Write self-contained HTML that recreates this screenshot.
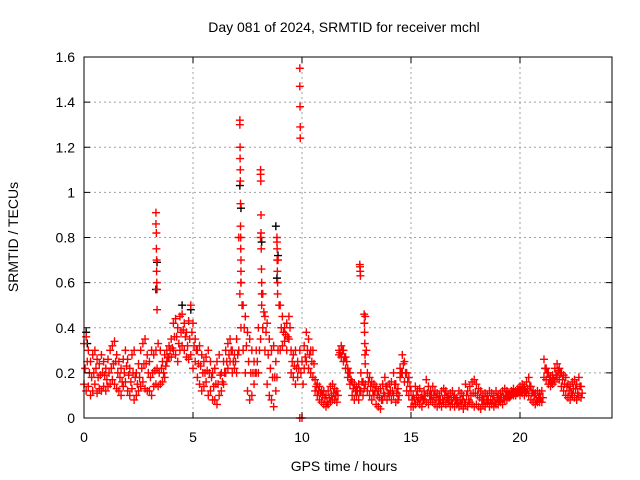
<!DOCTYPE html>
<html><head><meta charset="utf-8"><style>
body{margin:0;background:#fff}
svg{display:block;font-family:"Liberation Sans",sans-serif}
</style></head><body>
<svg id="chart" width="640" height="480" viewBox="0 0 640 480">
<text x="344" y="32" font-size="14" text-anchor="middle">Day 081 of 2024, SRMTID for receiver mchl</text>
<text transform="translate(18,237) rotate(-90)" font-size="14" text-anchor="middle">SRMTID / TECUs</text>
<text x="344" y="471" font-size="14" text-anchor="middle">GPS time / hours</text>
<g id="grid"></g><g id="marks"></g><g id="axes"></g>
</svg>
<script>
const xTicks=[0,5,10,15,20];
const yTicks=[0,0.2,0.4,0.6,0.8,1,1.2,1.4,1.6];
const yTickLabels=["0","0.2","0.4","0.6","0.8","1","1.2","1.4","1.6"];
const tStart=0, tStep=0.1;
const hiVals=[0.33,0.36,0.3,0.25,0.28,0.3,0.26,0.24,0.28,0.25,
0.22,0.26,0.3,0.32,0.34,0.28,0.25,0.22,0.26,0.3,
0.26,0.22,0.28,0.3,0.2,0.24,0.3,0.33,0.35,0.28,
0.25,0.3,0.28,0.3,0.33,0.3,0.25,0.28,0.3,0.32,
0.35,0.42,0.44,0.4,0.45,0.46,0.42,0.38,0.43,0.5,
0.42,0.35,0.3,0.32,0.28,0.25,0.27,0.3,0.25,0.2,
0.22,0.25,0.28,0.2,0.25,0.3,0.33,0.35,0.3,0.28,
0.35,0.8,0.6,0.5,0.45,0.38,0.35,0.3,0.25,0.3,
0.4,0.8,0.55,0.45,0.42,0.35,0.3,0.32,0.25,0.7,
0.5,0.45,0.4,0.42,0.45,0.3,0.28,0.3,0.25,0.3,
0.25,0.32,0.38,0.35,0.3,0.3,0.17,0.15,0.14,0.12,
0.12,0.1,0.12,0.14,0.15,0.13,0.12,0.3,0.32,0.3,
0.27,0.22,0.2,0.16,0.15,0.14,0.15,0.2,0.16,0.45,
0.2,0.18,0.16,0.15,0.14,0.12,0.13,0.15,0.18,0.14,
0.15,0.16,0.2,0.15,0.13,0.22,0.28,0.25,0.2,0.18,
0.12,0.1,0.14,0.12,0.13,0.1,0.12,0.17,0.14,0.12,
0.14,0.12,0.11,0.1,0.12,0.13,0.12,0.1,0.11,0.12,
0.1,0.09,0.12,0.11,0.1,0.15,0.12,0.14,0.16,0.17,
0.15,0.13,0.12,0.1,0.11,0.1,0.12,0.11,0.1,0.12,
0.1,0.11,0.12,0.13,0.12,0.11,0.12,0.13,0.12,0.13,
0.14,0.15,0.14,0.16,0.18,0.14,0.12,0.11,0.12,0.11,
0.12,0.26,0.22,0.2,0.18,0.19,0.22,0.24,0.22,0.2,
0.19,0.18,0.15,0.14,0.16,0.17,0.15,0.18,0.14];
const midVals=[0.22,0.25,0.2,0.18,0.2,0.22,0.18,0.19,0.2,0.19,
0.17,0.2,0.22,0.24,0.25,0.2,0.18,0.16,0.2,0.23,
0.19,0.16,0.2,0.18,0.15,0.18,0.22,0.24,0.24,0.2,
0.18,0.2,0.21,0.22,0.2,0.22,0.2,0.23,0.27,0.3,
0.31,0.36,0.36,0.33,0.38,0.39,0.36,0.32,0.35,0.38,
0.32,0.3,0.24,0.23,0.2,0.2,0.21,0.2,0.18,0.14,
0.15,0.15,0.19,0.16,0.2,0.25,0.28,0.3,0.25,0.25,
0.28,0.55,0.5,0.4,0.32,0.25,0.2,0.2,0.2,0.25,
0.3,0.5,0.47,0.38,0.28,0.22,0.18,0.18,0.18,0.5,
0.4,0.38,0.37,0.36,0.4,0.25,0.23,0.22,0.22,0.2,
0.15,0.27,0.3,0.28,0.25,0.24,0.14,0.12,0.11,0.1,
0.09,0.07,0.09,0.1,0.11,0.1,0.1,0.29,0.3,0.27,
0.25,0.2,0.17,0.13,0.12,0.12,0.12,0.16,0.13,0.3,
0.16,0.14,0.12,0.12,0.1,0.09,0.08,0.11,0.14,0.11,
0.12,0.12,0.15,0.11,0.1,0.2,0.24,0.2,0.16,0.14,
0.08,0.08,0.1,0.09,0.09,0.08,0.1,0.11,0.1,0.1,
0.1,0.09,0.08,0.08,0.08,0.1,0.09,0.08,0.08,0.09,
0.08,0.07,0.08,0.08,0.07,0.1,0.08,0.1,0.11,0.11,
0.1,0.09,0.08,0.08,0.08,0.08,0.08,0.08,0.07,0.09,
0.08,0.09,0.09,0.1,0.1,0.1,0.11,0.11,0.11,0.12,
0.12,0.13,0.12,0.13,0.14,0.11,0.1,0.08,0.09,0.09,
0.09,0.22,0.2,0.17,0.16,0.17,0.19,0.21,0.2,0.17,
0.15,0.14,0.12,0.11,0.13,0.13,0.11,0.14,0.11];
const loVals=[0.15,0.12,0.14,0.1,0.12,0.15,0.11,0.13,0.12,0.14,
0.12,0.14,0.15,0.17,0.15,0.13,0.12,0.1,0.14,0.16,
0.12,0.1,0.13,0.08,0.1,0.12,0.14,0.16,0.13,0.12,
0.12,0.1,0.14,0.15,0.14,0.15,0.16,0.18,0.25,0.27,
0.27,0.3,0.28,0.25,0.3,0.32,0.3,0.27,0.26,0.28,
0.22,0.25,0.18,0.15,0.12,0.14,0.16,0.1,0.12,0.08,
0.08,0.06,0.1,0.12,0.15,0.2,0.22,0.25,0.2,0.22,
0.2,0.3,0.4,0.3,0.2,0.12,0.08,0.1,0.15,0.2,
0.2,0.35,0.4,0.3,0.15,0.1,0.08,0.05,0.12,0.3,
0.3,0.32,0.34,0.3,0.35,0.2,0.18,0.15,0.18,0.0,
0.0,0.22,0.25,0.22,0.2,0.18,0.12,0.1,0.08,0.07,
0.06,0.05,0.06,0.07,0.08,0.08,0.07,0.28,0.27,0.25,
0.22,0.18,0.15,0.1,0.08,0.1,0.08,0.12,0.1,0.15,
0.12,0.1,0.08,0.1,0.06,0.05,0.04,0.08,0.1,0.08,
0.1,0.08,0.1,0.07,0.08,0.18,0.2,0.16,0.12,0.1,
0.05,0.05,0.06,0.07,0.06,0.05,0.08,0.07,0.06,0.08,
0.07,0.06,0.05,0.06,0.05,0.07,0.06,0.07,0.05,0.06,
0.05,0.06,0.05,0.06,0.04,0.06,0.05,0.07,0.06,0.05,
0.06,0.05,0.04,0.06,0.05,0.07,0.05,0.06,0.05,0.06,
0.06,0.07,0.06,0.08,0.08,0.09,0.1,0.1,0.1,0.11,
0.1,0.11,0.1,0.11,0.1,0.08,0.07,0.06,0.07,0.07,
0.07,0.18,0.17,0.15,0.14,0.15,0.16,0.18,0.17,0.14,
0.12,0.1,0.09,0.08,0.1,0.09,0.08,0.1,0.09];
const spikeT=[3.3,3.3,3.32,3.32,3.33,3.33,3.34,3.35,3.35,
7.15,7.15,7.16,7.16,7.17,7.17,7.18,7.18,7.19,7.19,7.2,7.2,7.2,
8.1,8.1,8.11,8.12,8.12,8.13,8.14,8.15,8.15,
8.85,8.85,8.86,8.86,8.87,8.88,8.88,
9.9,9.9,9.91,9.92,9.92,
12.65,12.66,12.67,12.68,
12.85,12.86,12.87,12.88,12.89,12.9];
const spikeV=[0.91,0.86,0.82,0.75,0.7,0.65,0.6,0.57,0.48,
1.32,1.3,1.2,1.15,1.1,1.05,0.95,0.85,0.8,0.75,0.7,0.65,0.6,
1.1,1.08,1.05,0.9,0.82,0.75,0.66,0.6,0.55,
0.8,0.78,0.75,0.7,0.65,0.6,0.55,
1.55,1.47,1.38,1.29,1.24,
0.68,0.67,0.65,0.63,
0.46,0.42,0.38,0.33,0.28,0.24];
const blackT=[0.1,0.15,3.3,3.35,4.5,4.9,7.15,7.2,8.15,8.8,8.9,8.85];
const blackV=[0.38,0.33,0.57,0.69,0.5,0.48,1.03,0.93,0.78,0.85,0.72,0.62];

const L=84,R=612,T=57,B=418,XMAX=24.22,YMAX=1.6;
const xs=t=>L+t/XMAX*(R-L);
const ys=v=>B-v/YMAX*(B-T);
const NS="http://www.w3.org/2000/svg";
function mk(tag,attrs,parent){const e=document.createElementNS(NS,tag);for(const k in attrs)e.setAttribute(k,attrs[k]);parent.appendChild(e);return e;}
const grid=document.getElementById('grid'),marks=document.getElementById('marks'),axes=document.getElementById('axes');
yTicks.forEach((v,i)=>{
  const y=ys(v);
  if(i>0&&i<yTicks.length-1){const g=mk('line',{x1:L,x2:R,y1:y,y2:y,stroke:'#a0a0a0','stroke-dasharray':'2,3'},grid);
  
  }
  mk('line',{x1:L,x2:L+6,y1:y,y2:y,stroke:'#000'},axes);
  mk('line',{x1:R,x2:R-6,y1:y,y2:y,stroke:'#000'},axes);
  const t=mk('text',{x:L-9,y:y+5,'font-size':14,'text-anchor':'end'},axes);
  t.textContent=yTickLabels[i];
  
  
});
xTicks.forEach((v,i)=>{
  const x=xs(v);
  if(i>0){const g=mk('line',{x1:x,x2:x,y1:T,y2:B,stroke:'#a0a0a0','stroke-dasharray':'2,3'},grid);
  
  }
  mk('line',{x1:x,x2:x,y1:B,y2:B-6,stroke:'#000'},axes);
  mk('line',{x1:x,x2:x,y1:T,y2:T+6,stroke:'#000'},axes);
  const t=mk('text',{x:x,y:B+24,'font-size':14,'text-anchor':'middle'},axes);
  t.textContent=String(v);
  
  
});
const frame=mk('rect',{x:L,y:T,width:R-L,height:B-T,fill:'none',stroke:'#000'},axes);


function plus(t,v,color,name){
  const x=xs(t),y=ys(v);
  const p=mk('path',{d:`M${x-4},${y}H${x+4}M${x},${y-4}V${y+4}`,stroke:color,'stroke-width':1.4,fill:'none'},marks);
  
  
}
blackT.forEach((t,i)=>plus(t,blackV[i],'#000','black-point'));
[hiVals,loVals].forEach(arr=>arr.forEach((v,i)=>plus(tStart+i*tStep,v,'#ff0000','srmtid-point')));
midVals.forEach((v,i)=>plus(tStart+i*tStep+tStep/2,v,'#ff0000','srmtid-point'));
spikeT.forEach((t,i)=>plus(t,spikeV[i],'#ff0000','srmtid-spike-point'));
</script>
</body></html>
